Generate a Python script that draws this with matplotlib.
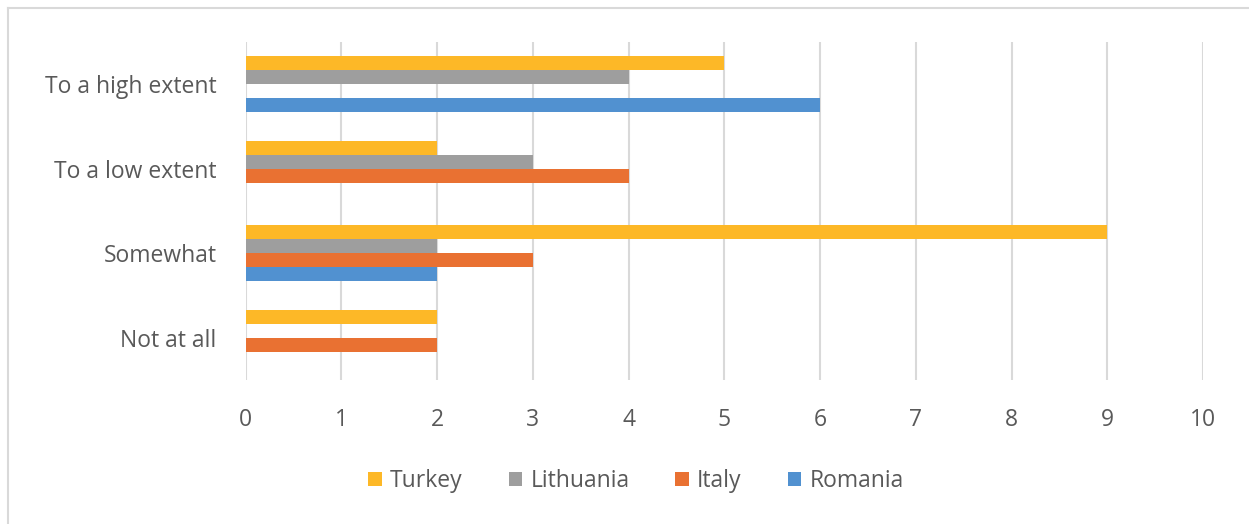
import matplotlib
matplotlib.use("Agg")
import matplotlib.pyplot as plt
import numpy as np
from matplotlib.patches import Patch
from matplotlib.lines import Line2D

categories = ["Not at all", "Somewhat", "To a low extent", "To a high extent"]
series_names = ["Turkey", "Lithuania", "Italy", "Romania"]
turkey = [2, 9, 2, 5]
lithuania = [0, 2, 3, 4]
italy = [2, 3, 4, 0]
romania = [0, 2, 0, 6]
colors = ["#FDB827", "#9E9E9E", "#E97132", "#5191D0"]
xticks = list(range(0, 11))

W, H = 1249, 524
fig = plt.figure(figsize=(W / 100, H / 100), dpi=100)
plt.rcParams['font.family'] = ['Open Sans', 'DejaVu Sans']

# chart border (top and left)
fig.add_artist(Line2D([8 / W, 8 / W], [0, 1 - 8 / H], color="#D9D9D9", lw=1.5))
fig.add_artist(Line2D([8 / W, 1], [1 - 8 / H, 1 - 8 / H], color="#D9D9D9", lw=1.5))

x0, x1 = 245.5, 1203
y0, y1 = 42, 380
ax = fig.add_axes([x0 / W, 1 - y1 / H, (x1 - x0) / W, (y1 - y0) / H])

data = [turkey, lithuania, italy, romania]
n = len(series_names)
bh = 0.166
y = np.arange(len(categories))
for i, (name, vals, c) in enumerate(zip(series_names, data, colors)):
    offset = (n - 1) / 2 * bh - i * bh
    ax.barh(y + offset, vals, height=bh, color=c, label=name, zorder=3)

ax.set_xlim(0, 10)
ax.set_ylim(-0.5, len(categories) - 0.5)
ax.set_xticks(xticks)
ax.set_yticks(y)
ax.set_yticklabels(categories)
ax.grid(axis="x", color="#D9D9D9", lw=1.5, zorder=0)
for s in ax.spines.values():
    s.set_visible(False)
ax.tick_params(axis="both", length=0, labelsize=16.5, labelcolor="#595959")
ax.tick_params(axis="y", pad=21)
ax.tick_params(axis="x", pad=20)

handles = [Patch(facecolor=c, edgecolor="none") for c in colors]
fig.legend(handles, series_names, loc="center", bbox_to_anchor=(636 / W, 1 - 481 / H),
           ncol=4, frameon=False, fontsize=16.5, labelcolor="#595959",
           handlelength=0.6, handleheight=0.6, handletextpad=0.35, columnspacing=2.0)

fig.savefig("out.png", dpi=100, facecolor="white")
